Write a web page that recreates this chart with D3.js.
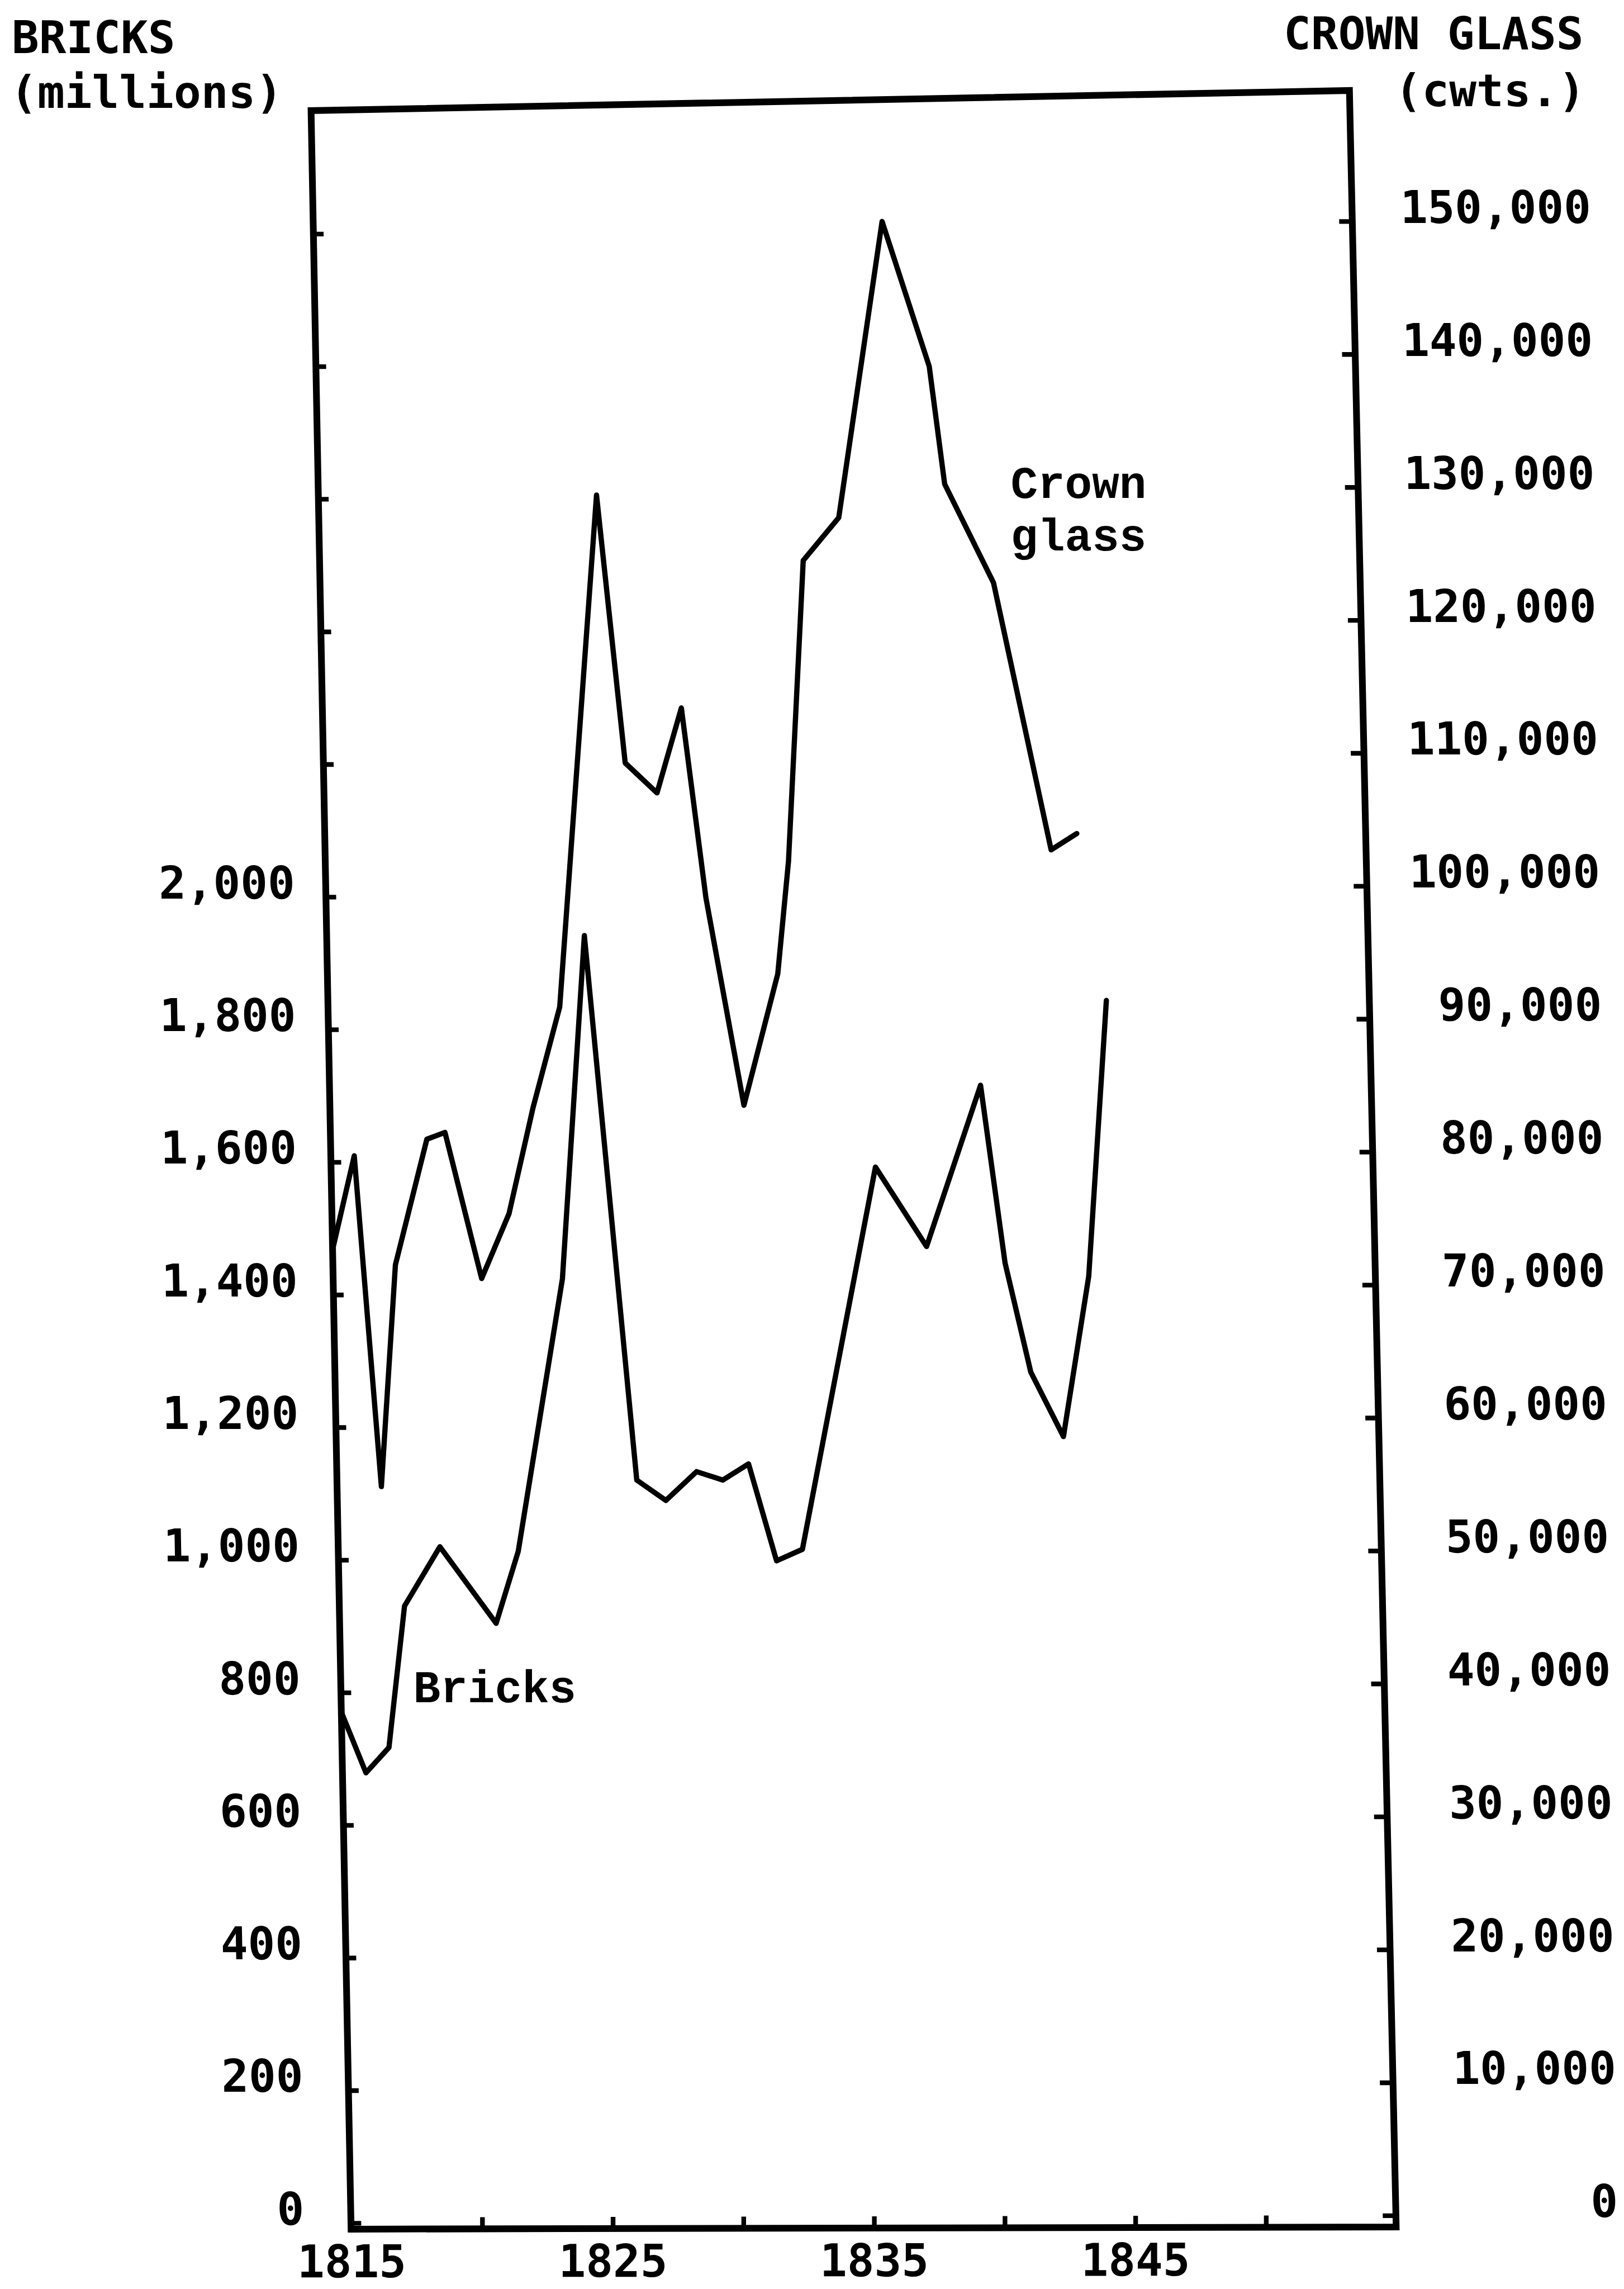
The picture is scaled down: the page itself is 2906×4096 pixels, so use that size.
<!DOCTYPE html>
<html lang="en">
<head>
<meta charset="utf-8">
<title>Bricks and crown glass, 1815-1845</title>
<script src="https://d3js.org/d3.v7.min.js"></script>
<style>
  body { margin: 0; background: #fff; }
  .type { font-family: "DejaVu Sans Mono", monospace; font-weight: bold; font-size: 31px; fill: #000; }
  .note { font-family: "Liberation Mono", monospace; font-weight: bold; font-size: 31px; fill: #000; }
  .series { fill: none; stroke: #000; stroke-width: 3.6; stroke-linejoin: round; stroke-linecap: round; }
  .frame { fill: none; stroke: #000; stroke-width: 4.6; stroke-linejoin: miter; }
  .tick line { stroke-width: 3.2; }
</style>
</head>
<body>
<div id="vis"></div>
<script>
// bricks, millions (left scale); x positions
const brickYears  = [1815.0, 1815.9, 1816.8, 1817.5, 1818.9, 1821.0, 1821.9, 1823.8, 1824.9, 1826.5, 1827.6, 1828.8,
                     1829.8, 1830.8, 1831.8, 1832.8, 1835.9, 1837.8, 1840.0, 1840.8, 1841.7, 1842.9, 1844.0, 1844.9];
const brickValues = [770, 678, 716, 929, 1018, 902, 1010, 1420, 1936, 1116, 1085, 1128,
                     1115, 1139, 993, 1010, 1583, 1463, 1704, 1437, 1273, 1176, 1416, 1829];

// crown glass, cwts. (right scale)
const glassYears  = [1815.0, 1815.9, 1816.7, 1817.4, 1818.7, 1819.4, 1820.7, 1821.8, 1822.8, 1823.9, 1825.7, 1826.6, 1827.8,
                     1828.8, 1829.6, 1830.9, 1832.3, 1832.8, 1833.6, 1835.0, 1836.9, 1838.6, 1839.1, 1840.9, 1842.9, 1843.9];
const glassValues = [73400, 80500, 55400, 72200, 81700, 82200, 71100, 76000, 84000, 91600, 130300, 110000, 107700,
                     114100, 99700, 84000, 93900, 102400, 125100, 128300, 150600, 139600, 130700, 123200, 103000, 104200];

// ticks
const brickTicks  = [0, 200, 400, 600, 800, 1000, 1200, 1400, 1600, 1800, 2000, 2200, 2400, 2600, 2800, 3000];
const brickLabelled = [0, 200, 400, 600, 800, 1000, 1200, 1400, 1600, 1800, 2000];
const glassTicks  = [0, 10000, 20000, 30000, 40000, 50000, 60000, 70000, 80000, 90000,
                     100000, 110000, 120000, 130000, 140000, 150000];
const yearTicks   = [1815, 1820, 1825, 1830, 1835, 1840, 1845, 1850];
const yearLabels  = [1815, 1825, 1835, 1845];

const W = 1112, H = 1568;

// the original frame is a scan, a little out of square: its four corners
const corner = { bl: [240.4, 1527], br: [956, 1525.5], tl: [213, 75.8], tr: [924, 62] };

// (u, v) in 0..1 -> page, bilinear across the frame
function warp(u, v) {
    const bx = corner.bl[0] + (corner.br[0] - corner.bl[0]) * u;
    const by = corner.bl[1] + (corner.br[1] - corner.bl[1]) * u;
    const tx = corner.tl[0] + (corner.tr[0] - corner.tl[0]) * u;
    const ty = corner.tl[1] + (corner.tr[1] - corner.tl[1]) * u;
    return [bx + (tx - bx) * v, by + (ty - by) * v];
}

const xScale = d3.scaleLinear().domain([1815, 1855]).range([0, 1]);
const yBricks = d3.scaleLinear().domain([-10, 3185]).range([0, 1]);
const yGlass = d3.scaleLinear().domain([-900, 159800]).range([0, 1]);

const svg = d3.select("#vis")
    .append("svg")
    .attr("width", 2906)
    .attr("height", 4096)
    .attr("viewBox", `0 0 ${W} ${H}`)
    .attr("preserveAspectRatio", "none")
    .style("background-color", "#fff");

//frame
svg.append("path")
    .attr("class", "frame")
    .attr("d", d3.line()([warp(0, 0), warp(1, 0), warp(1, 1), warp(0, 1)]) + "Z");

//left axis, drawn along the leaning left edge
const leftLen = corner.bl[1] - corner.tl[1];
const leftAxis = d3.axisLeft(yBricks.copy().range([leftLen, 0]))
    .tickValues(brickTicks)
    .tickSizeInner(-7)
    .tickSizeOuter(0)
    .tickFormat(d => brickLabelled.includes(d) ? d3.format(",")(d) : "");

const gl = svg.append("g")
    .attr("transform", `matrix(1,0,${(corner.bl[0] - corner.tl[0]) / leftLen},1,${corner.tl[0]},${corner.tl[1]})`)
    .attr("color", "#000")
    .call(leftAxis);
gl.select(".domain").remove();
gl.attr("font-size", null).attr("font-family", null);
gl.selectAll(".tick text")
    .attr("class", "type")
    .attr("dy", "0.03em")
    .attr("x", d => {
        const p = warp(0, yBricks(d));
        return 202 + (p[1] - 593) * 0.0069 - p[0];   // labels typed in a plumb column
    });

//right axis
const rightLen = corner.br[1] - corner.tr[1];
const rightAxis = d3.axisRight(yGlass.copy().range([rightLen, 0]))
    .tickValues(glassTicks)
    .tickSizeInner(-9)
    .tickSizeOuter(0)
    .tickFormat(d3.format(","));

const gr = svg.append("g")
    .attr("transform", `matrix(1,0,${(corner.br[0] - corner.tr[0]) / rightLen},1,${corner.tr[0]},${corner.tr[1]})`)
    .attr("color", "#000")
    .call(rightAxis);
gr.select(".domain").remove();
gr.attr("font-size", null).attr("font-family", null);
gr.selectAll(".tick text")
    .attr("class", "type")
    .attr("text-anchor", "end")
    .attr("dy", "0.03em")
    .attr("x", d => {
        const p = warp(1, yGlass(d));
        return 1087.6 + p[1] * 0.0135 - p[0];
    });

//bottom axis
const bottomLen = corner.br[0] - corner.bl[0];
const bottomAxis = d3.axisBottom(xScale.copy().range([0, bottomLen]))
    .tickValues(yearTicks)
    .tickSizeInner(-8)
    .tickSizeOuter(0)
    .tickPadding(11)
    .tickFormat(d => yearLabels.includes(d) ? d : "");

const gb = svg.append("g")
    .attr("transform", `matrix(1,${(corner.br[1] - corner.bl[1]) / bottomLen},0,1,${corner.bl[0]},${corner.bl[1]})`)
    .attr("color", "#000")
    .call(bottomAxis);
gb.select(".domain").remove();
gb.attr("font-size", null).attr("font-family", null);
gb.selectAll(".tick text").attr("class", "type");

//lines
const bricks = brickYears.map((yr, i) => ({ year: yr, value: brickValues[i] }));
const glass = glassYears.map((yr, i) => ({ year: yr, value: glassValues[i] }));

const brickLine = d3.line()
    .x(d => warp(xScale(d.year), yBricks(d.value))[0])
    .y(d => warp(xScale(d.year), yBricks(d.value))[1]);
const glassLine = d3.line()
    .x(d => warp(xScale(d.year), yGlass(d.value))[0])
    .y(d => warp(xScale(d.year), yGlass(d.value))[1]);

svg.append("path").datum(glass).attr("class", "series").attr("d", glassLine);
svg.append("path").datum(bricks).attr("class", "series").attr("d", brickLine);

//axis titles
svg.append("text").attr("class", "type").attr("x", 8).attr("y", 36.4).text("BRICKS");
svg.append("text").attr("class", "type").attr("x", 7).attr("y", 73.8).text("(millions)");
svg.append("text").attr("class", "type").attr("x", 879).attr("y", 33.8).text("CROWN GLASS");
svg.append("text").attr("class", "type").attr("x", 955).attr("y", 72.9).text("(cwts.)");

//series labels
svg.append("text").attr("class", "note").attr("x", 283).attr("y", 1166).text("Bricks");
svg.append("text").attr("class", "note").attr("x", 692).attr("y", 341).text("Crown");
svg.append("text").attr("class", "note").attr("x", 692).attr("y", 377).text("glass");
</script>
</body>
</html>
